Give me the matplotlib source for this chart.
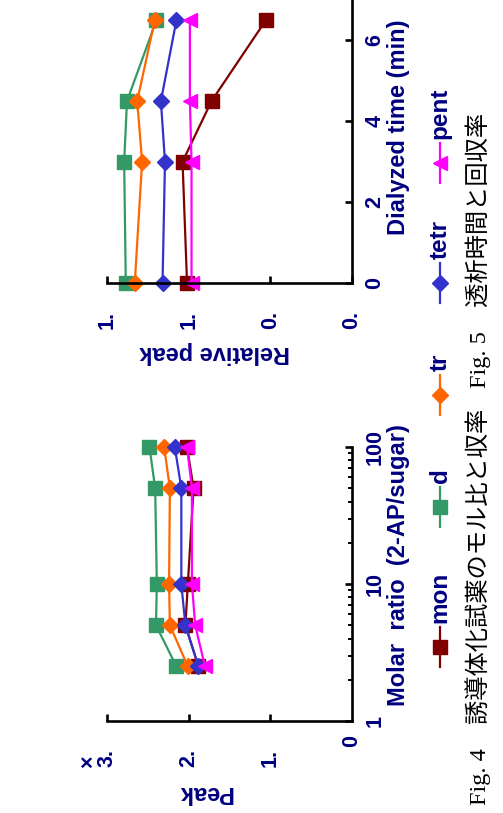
import matplotlib
matplotlib.use("Agg")
import matplotlib.pyplot as plt
from matplotlib.lines import Line2D
from matplotlib.ticker import FixedLocator, FixedFormatter, LogLocator, NullFormatter

W, H = 503, 813

# ---------------- data ----------------
series_names = ["mon", "d", "tr", "tetr", "pent"]
series_colors = ["#800000", "#339966", "#FF6600", "#3333CC", "#FF00FF"]
series_markers = ["s", "s", "D", "D", "<"]

# Fig. 4 : peak vs molar ratio
molar_ratio = [2.5, 5, 10, 50, 100]
peak_mon = [1.88, 2.04, 2.01, 1.94, 2.02]
peak_d = [2.15, 2.40, 2.39, 2.41, 2.48]
peak_tr = [2.01, 2.23, 2.24, 2.23, 2.30]
peak_tetr = [1.88, 2.04, 2.09, 2.09, 2.17]
peak_pent = [1.80, 1.92, 1.96, 1.96, 2.02]
fig4_peak_ticks = [1, 2, 3]
fig4_peak_ticklabels = ["1.", "2.", "3."]
fig4_ratio_ticks = [1, 10, 100]
fig4_ratio_ticklabels = ["1", "10", "100"]

# Fig. 5 : relative peak vs dialyzed time
dial_time = [0, 3, 4.5, 6.5]
rel_mon = [1.004, 1.015, 0.944, 0.811]
rel_d = [1.154, 1.158, 1.151, 1.079]
rel_tr = [1.132, 1.114, 1.126, 1.083]
rel_tetr = [1.064, 1.058, 1.068, 1.030]
rel_pent = [0.993, 0.993, 0.997, 0.997]
fig5_rel_ticks = [0.6, 0.8, 1.0, 1.2]
fig5_rel_ticklabels = ["0.", "0.", "1.", "1."]
fig5_time_ticks = [0, 2, 4, 6]
fig5_time_ticklabels = ["0", "2", "4", "6"]

peaks4 = [peak_mon, peak_d, peak_tr, peak_tetr, peak_pent]
rels5 = [rel_mon, rel_d, rel_tr, rel_tetr, rel_pent]

title4 = "Fig. 4\u3000誘導体化試薬のモル比と収率"
title5 = "Fig. 5\u3000透析時間と回収率"

# ---------------- style ----------------
NAVY = "#000080"
SANS = ["Liberation Sans", "DejaVu Sans"]
TICK_FS = 15.5
LABEL_FS = 17
LEG_FS = 17.5
SPINE_LW = 1.9

def fx(x):
    return x / W

def fy(y):
    return 1 - y / H

fig = plt.figure(figsize=(W / 100, H / 100), dpi=100)
fig.patch.set_facecolor("white")

ax4 = fig.add_axes([fx(107), fy(721), (352 - 107) / W, (721 - 447) / H])
ax5 = fig.add_axes([fx(107), fy(283), (352 - 107) / W, 283 / H])

msizes = {"s": 10, "D": 8.5, "<": 10}

for ax in (ax4, ax5):
    ax.set_facecolor("none")
    ax.spines["left"].set_visible(False)
    ax.spines["top"].set_visible(False)
    for s in ("bottom", "right"):
        ax.spines[s].set_linewidth(SPINE_LW)
        ax.spines[s].set_color("black")
    ax.yaxis.tick_right()
    ax.tick_params(axis="both", which="major", direction="in", length=5,
                   width=SPINE_LW, colors="black", labelcolor=NAVY,
                   labelsize=TICK_FS)
    ax.tick_params(axis="x", pad=20)
    ax.tick_params(axis="y", pad=9)

# Fig 4
for vals, c, m in zip(peaks4, series_colors, series_markers):
    ax4.plot(vals, molar_ratio, color=c, lw=1.6, marker=m, ms=msizes[m],
             mec=c, mfc=c, clip_on=False)
ax4.set_yscale("log")
ax4.set_xlim(3, 0)
ax4.set_ylim(1, 100)
ax4.xaxis.set_major_locator(FixedLocator(fig4_peak_ticks))
ax4.xaxis.set_major_formatter(FixedFormatter(fig4_peak_ticklabels))
ax4.yaxis.set_major_locator(FixedLocator(fig4_ratio_ticks))
ax4.yaxis.set_major_formatter(FixedFormatter(fig4_ratio_ticklabels))
ax4.yaxis.set_minor_locator(LogLocator(base=10, subs=range(2, 10)))
ax4.yaxis.set_minor_formatter(NullFormatter())
ax4.tick_params(axis="y", which="minor", direction="in", length=3,
                width=1.4, colors="black")
ax4.text(0, -0.05, "0", transform=ax4.get_xaxis_transform(), rotation=90,
         ha="center", va="top", color=NAVY, fontsize=TICK_FS,
         fontweight="bold", family=SANS)

# Fig 5
for vals, c, m in zip(rels5, series_colors, series_markers):
    ax5.plot(vals, dial_time, color=c, lw=1.6, marker=m, ms=msizes[m],
             mec=c, mfc=c, clip_on=False)
ax5.set_xlim(1.2, 0.6)
ax5.set_ylim(0, 7)
ax5.xaxis.set_major_locator(FixedLocator(fig5_rel_ticks))
ax5.xaxis.set_major_formatter(FixedFormatter(fig5_rel_ticklabels))
ax5.yaxis.set_major_locator(FixedLocator(fig5_time_ticks))
ax5.yaxis.set_major_formatter(FixedFormatter(fig5_time_ticklabels))

for ax in (ax4, ax5):
    for lab in ax.get_xticklabels() + ax.get_yticklabels():
        lab.set_rotation(90)
        lab.set_fontweight("bold")
        lab.set_family(SANS)
    for lab in ax.get_xticklabels():
        lab.set_va("top")
        lab.set_ha("center")
    for lab in ax.get_yticklabels():
        lab.set_va("center")

# axis labels (rotated page)
ax4.text(0.40, -0.26, "Peak", transform=ax4.transAxes, rotation=180,
         ha="center", va="center", color=NAVY, fontsize=LABEL_FS,
         fontweight="bold", family=SANS)
ax5.text(0.44, -0.247, "Relative peak", transform=ax5.transAxes, rotation=180,
         ha="center", va="center", color=NAVY, fontsize=LABEL_FS,
         fontweight="bold", family=SANS)
ax4.text(1.19, 0.57, "Molar  ratio  (2-AP/sugar)", transform=ax4.transAxes,
         rotation=90, ha="center", va="center", color=NAVY, fontsize=LABEL_FS,
         fontweight="bold", family=SANS)
ax5.text(1.19, 0.55, "Dialyzed time (min)", transform=ax5.transAxes,
         rotation=90, ha="center", va="center", color=NAVY, fontsize=LABEL_FS,
         fontweight="bold", family=SANS)
fig.text(fx(88), fy(762), "\u00d7", rotation=90, ha="center", va="center",
         color=NAVY, fontsize=TICK_FS, fontweight="bold", family=SANS)

# legend (drawn manually, rotated)
leg_x = 440
leg_y = [647, 507, 395, 283, 163]
for name, c, m, yc in zip(series_names, series_colors, series_markers, leg_y):
    fig.add_artist(Line2D([fx(leg_x), fx(leg_x)], [fy(yc + 20), fy(yc - 20)],
                          transform=fig.transFigure, color=c, lw=1.6,
                          marker=None))
    fig.add_artist(Line2D([fx(leg_x)], [fy(yc)], transform=fig.transFigure,
                          color=c, marker=m, ms=msizes[m], mec=c, mfc=c,
                          lw=0))
    fig.text(fx(leg_x), fy(yc - 24), name, rotation=90, rotation_mode="anchor",
             ha="left", va="center", color=NAVY, fontsize=LEG_FS,
             fontweight="bold", family=SANS)

# captions
fig.text(fx(478), fy(805), title4, rotation=90, rotation_mode="anchor",
         ha="left", va="center", color="black", fontsize=17.5,
         family=["Liberation Serif", "Noto Sans CJK JP"])
fig.text(fx(478), fy(388), title5, rotation=90, rotation_mode="anchor",
         ha="left", va="center", color="black", fontsize=17.5,
         family=["Liberation Serif", "Noto Sans CJK JP"])

fig.savefig("out.png", dpi=100, facecolor="white")
